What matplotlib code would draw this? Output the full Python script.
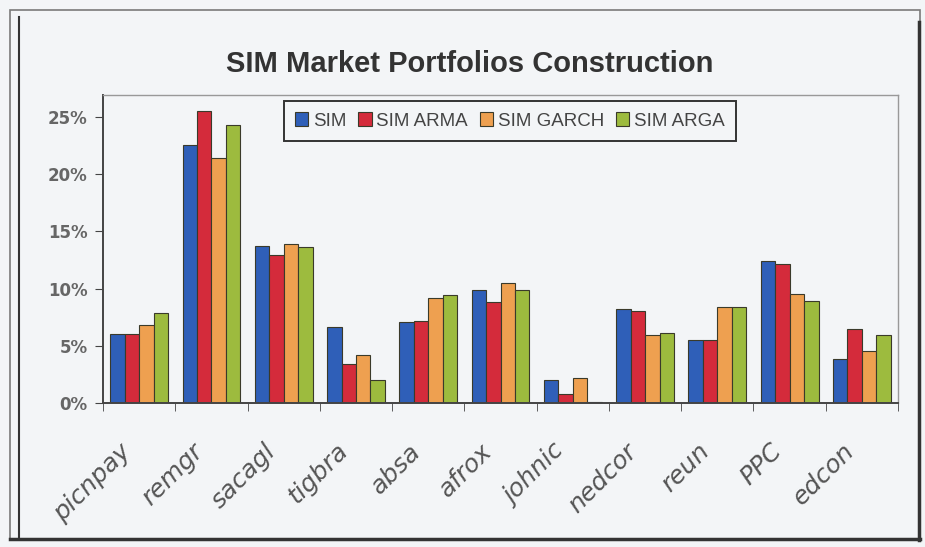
import matplotlib.pyplot as plt
import numpy as np
from matplotlib.patches import Rectangle
from matplotlib.lines import Line2D
from matplotlib.transforms import ScaledTranslation

# data (percent)
stocks = ["picnpay", "remgr", "sacagl", "tigbra", "absa", "afrox",
          "johnic", "nedcor", "reun", "PPC", "edcon"]
sim = [6.0, 22.5, 13.7, 6.6, 7.1, 9.9, 2.0, 8.2, 5.5, 12.4, 3.8]
sim_arma = [6.0, 25.5, 12.9, 3.4, 7.2, 8.8, 0.8, 8.0, 5.5, 12.1, 6.5]
sim_garch = [6.8, 21.4, 13.9, 4.2, 9.2, 10.5, 2.2, 5.9, 8.4, 9.5, 4.5]
sim_arga = [7.9, 24.3, 13.6, 2.0, 9.4, 9.9, 0.1, 6.1, 8.4, 8.9, 5.9]
series_names = ["SIM", "SIM ARMA", "SIM GARCH", "SIM ARGA"]
colors = ["#2f5fb8", "#d42b3b", "#eea050", "#9dbb3e"]

bg = "#f3f5f7"
fig = plt.figure(figsize=(9.25, 5.47), dpi=100, facecolor=bg)

# outer frame
fig.add_artist(Rectangle((10/925, 1-540/547), 910/925, 530/547, transform=fig.transFigure,
                         fill=False, edgecolor="#7a7a7a", linewidth=1.2))
fig.add_artist(Line2D([19/925, 19/925], [1-538/547, 1-17/547], transform=fig.transFigure,
                      color="#333333", linewidth=1.5))
fig.add_artist(Line2D([919/925, 919/925], [1-540/547, 1-22/547], transform=fig.transFigure,
                      color="#333333", linewidth=2.5))
fig.add_artist(Line2D([10/925, 920/925], [1-539/547, 1-539/547], transform=fig.transFigure,
                      color="#333333", linewidth=2.5))

ax = fig.add_axes([103/925, 1-403/547, 795/925, 308/547])
ax.set_facecolor(bg)

x = np.arange(len(stocks))
w = 0.2
all_series = [sim, sim_arma, sim_garch, sim_arga]
for i, vals in enumerate(all_series):
    ax.bar(x + (i - 1.5) * w, vals, w, color=colors[i], edgecolor="#3a3a2a",
           linewidth=0.8, label=series_names[i])

ax.set_xlim(-0.5, len(stocks) - 0.5)
ax.set_ylim(0, 26.9)
ax.set_yticks([0, 5, 10, 15, 20, 25])
ax.set_yticklabels(["0%", "5%", "10%", "15%", "20%", "25%"],
                   fontsize=12, fontweight="bold", color="#666666", family="DejaVu Sans")

ax.set_xticks(x)
ax.set_xticklabels(stocks, rotation=45, ha="right", rotation_mode="anchor",
                   fontsize=18, style="italic", color="#555555", family="DejaVu Sans")
ax.tick_params(axis="x", which="major", length=0, pad=26)
# labels sit a little left of the group centres
shift = ScaledTranslation(-20/100, 0, fig.dpi_scale_trans)
for lab in ax.get_xticklabels():
    lab.set_transform(lab.get_transform() + shift)
ax.set_xticks(np.arange(-0.5, len(stocks), 1), minor=True)
ax.tick_params(axis="x", which="minor", length=6, color="#444444", direction="out")
ax.tick_params(axis="y", length=6, color="#444444", direction="out", pad=5)

for s in ["left", "bottom"]:
    ax.spines[s].set_color("#444444")
    ax.spines[s].set_linewidth(1.4)
for s in ["top", "right"]:
    ax.spines[s].set_color("#999999")
    ax.spines[s].set_linewidth(1.0)

fig.text(470/925, 1-64/547, "SIM Market Portfolios Construction", ha="center", va="center",
         fontsize=21, fontweight="bold", color="#333333", family="Liberation Sans")

leg = ax.legend(loc="center", bbox_to_anchor=(510/925, 1-121/547), bbox_transform=fig.transFigure,
                ncol=4, frameon=True, fancybox=False, handlelength=0.7,
                handleheight=0.7, handletextpad=0.25, columnspacing=0.65, borderpad=0.6,
                prop={"family": "Liberation Sans", "size": 13.5})
leg.get_frame().set_edgecolor("#333333")
leg.get_frame().set_linewidth(1.4)
leg.get_frame().set_facecolor(bg)
leg.get_frame().set_alpha(1)
for t in leg.get_texts():
    t.set_color("#444444")

fig.savefig("out.png", dpi=100, facecolor=bg)
